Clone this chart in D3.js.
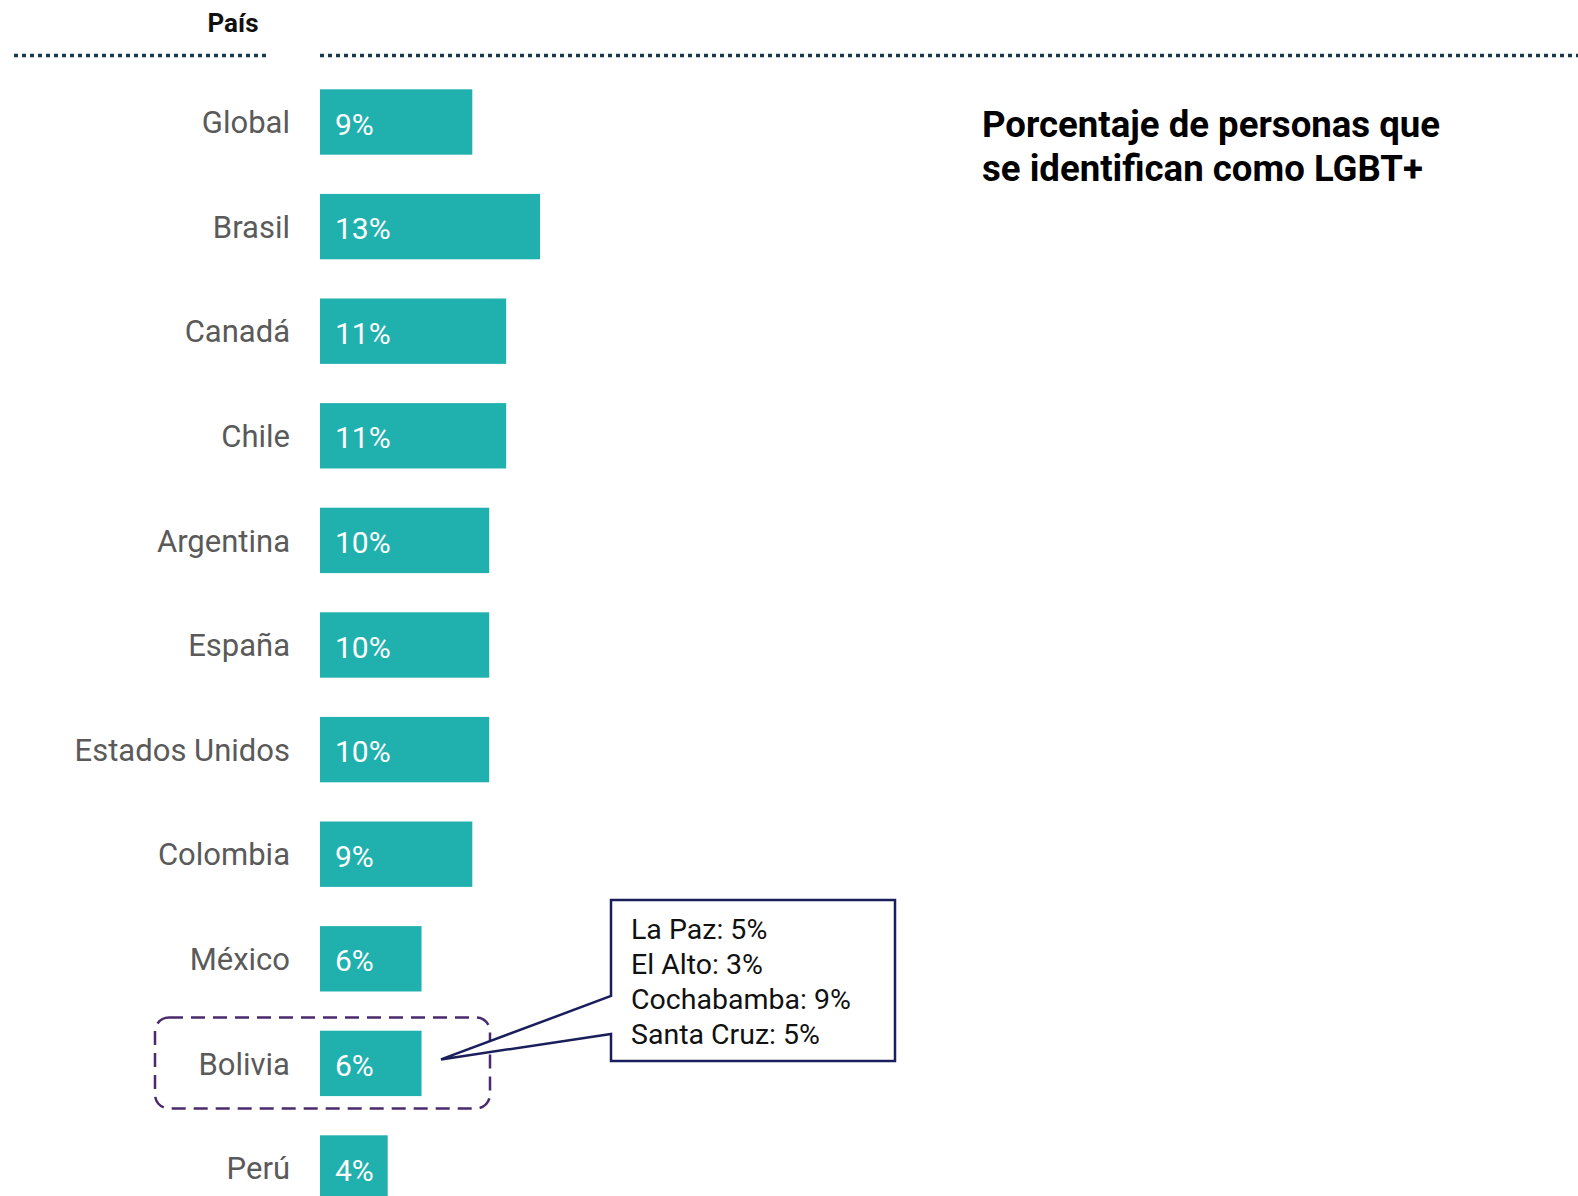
<!DOCTYPE html>
<html>
<head>
<meta charset="utf-8">
<script src="https://cdn.jsdelivr.net/npm/d3@7"></script>
<style>
  html, body { margin: 0; padding: 0; background: #fff; }
  svg { display: block; }
  text { font-family: Roboto, "Noto Sans", sans-serif; }
</style>
</head>
<body>
<svg id="chart" width="1578" height="1196"></svg>
<script>
const countries = ["Global", "Brasil", "Canadá", "Chile", "Argentina", "España", "Estados Unidos", "Colombia", "México", "Bolivia", "Perú"];
const values = [9, 13, 11, 11, 10, 10, 10, 9, 6, 6, 4];
const valueLabels = ["9%", "13%", "11%", "11%", "10%", "10%", "10%", "9%", "6%", "6%", "4%"];
const cities = ["La Paz", "El Alto", "Cochabamba", "Santa Cruz"];
const cityValues = [5, 3, 9, 5];
const titleLines = ["Porcentaje de personas que", "se identifican como LGBT+"];
const headerLabel = "País";
const highlighted = "Bolivia";

const svg = d3.select("#chart");

const x = d3.scaleLinear().domain([0, 13]).range([320, 540]);
const y = d3.scaleBand().domain(countries).range([69.7, 69.7 + 104.6 * countries.length]).paddingInner(0.375).paddingOuter(0.1875);

// header
svg.append("text").attr("x", 233).attr("y", 32).attr("text-anchor", "middle")
  .attr("font-size", 26).attr("font-weight", 700).attr("fill", "#111").text(headerLabel);

// dotted rules
const dotted = [[14, 266], [320, 1578]];
svg.selectAll("line.rule").data(dotted).enter().append("line")
  .attr("class", "rule")
  .attr("x1", d => d[0]).attr("x2", d => d[1])
  .attr("y1", 55.5).attr("y2", 55.5)
  .attr("stroke", "#173a4c").attr("stroke-width", 3.5)
  .attr("stroke-dasharray", "4,4");

// title
svg.append("text").attr("x", 982).attr("y", 137)
  .attr("font-size", 36.6).attr("font-weight", 700).attr("fill", "#000")
  .selectAll("tspan").data(titleLines).enter().append("tspan")
  .attr("x", 982).attr("dy", (d, i) => i === 0 ? 0 : 44).text(d => d);

// bars
const rows = svg.selectAll("g.row").data(countries).enter().append("g").attr("class", "row");
rows.append("rect")
  .attr("x", x(0)).attr("y", d => y(d))
  .attr("width", (d, i) => x(values[i]) - x(0))
  .attr("height", y.bandwidth())
  .attr("fill", "#20b0ae");
rows.append("text")
  .attr("x", 290).attr("y", d => y(d) + y.bandwidth() / 2)
  .attr("dy", "0.36em").attr("text-anchor", "end")
  .attr("font-size", 31).attr("fill", "#5a5a5a").text(d => d);
rows.append("text")
  .attr("x", x(0) + 15).attr("y", d => y(d) + y.bandwidth() / 2)
  .attr("dy", "0.42em")
  .attr("font-size", 30).attr("fill", "#fff").text((d, i) => valueLabels[i]);

// highlight box around Bolivia
const by = y(highlighted) + y.bandwidth() / 2;
svg.append("rect")
  .attr("x", 155).attr("y", by - 46).attr("width", 335).attr("height", 91)
  .attr("rx", 14).attr("ry", 14)
  .attr("fill", "none").attr("stroke", "#4a2a6c").attr("stroke-width", 2.5)
  .attr("stroke-dasharray", "14,8");

// callout
const bx0 = 611, bx1 = 895, bt = 900, bb = 1061;
const tip = [441, by - 4];
const calloutPath = d3.path();
calloutPath.moveTo(bx0, bt);
calloutPath.lineTo(bx1, bt);
calloutPath.lineTo(bx1, bb);
calloutPath.lineTo(bx0, bb);
calloutPath.lineTo(bx0, 1034);
calloutPath.lineTo(tip[0], tip[1]);
calloutPath.lineTo(bx0, 996);
calloutPath.closePath();
svg.append("path").attr("d", calloutPath.toString())
  .attr("fill", "#fff").attr("stroke", "#1a1f5c").attr("stroke-width", 2.5)
  .attr("stroke-linejoin", "miter");

svg.selectAll("text.city").data(cities).enter().append("text")
  .attr("class", "city")
  .attr("x", 631).attr("y", (d, i) => 939 + i * 35)
  .attr("font-size", 28.5).attr("fill", "#111")
  .text((d, i) => d + ": " + cityValues[i] + "%");
</script>
</body>
</html>
